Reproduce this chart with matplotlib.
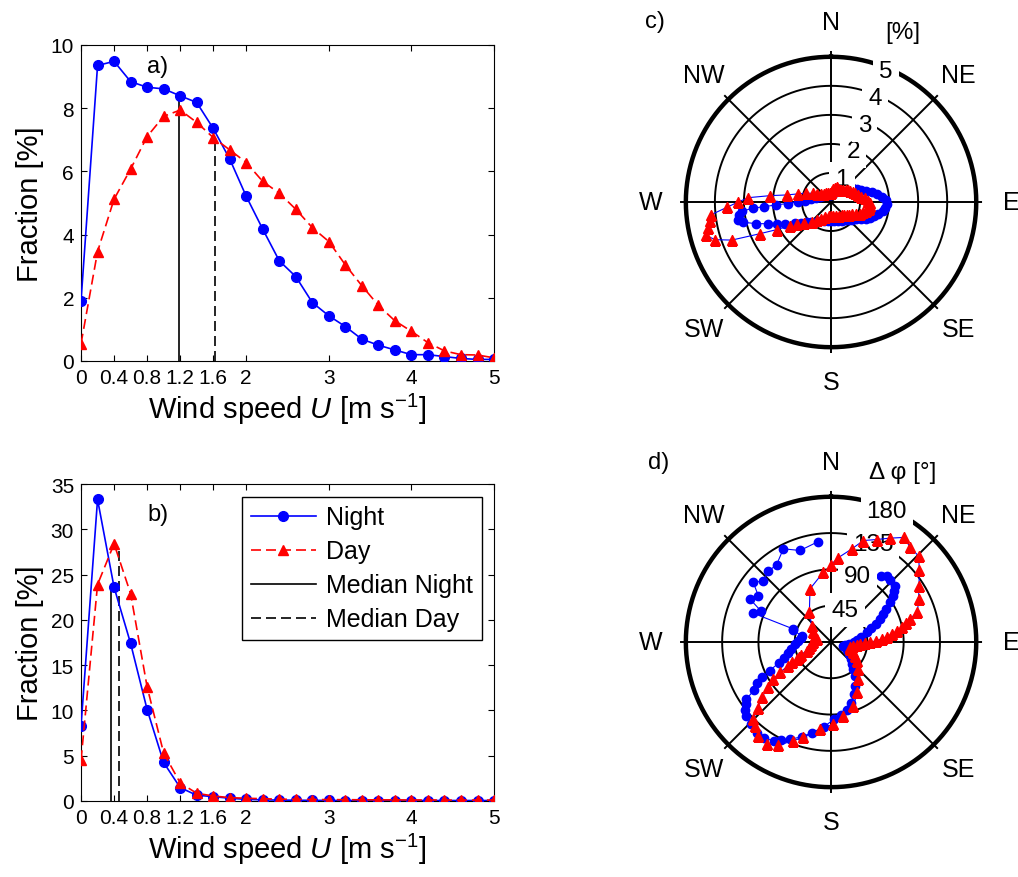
import numpy as np
import matplotlib
matplotlib.use('Agg')
import matplotlib.pyplot as plt

plt.rcParams['font.family'] = ['Liberation Sans', 'DejaVu Sans']
plt.rcParams['mathtext.fontset'] = 'custom'
plt.rcParams['mathtext.rm'] = 'Liberation Sans'
plt.rcParams['mathtext.it'] = 'Liberation Sans:italic'

# wind speed bins [m/s]
u = [0, 0.2, 0.4, 0.6, 0.8, 1.0, 1.2, 1.4, 1.6, 1.8, 2.0, 2.2, 2.4, 2.6, 2.8,
     3.0, 3.2, 3.4, 3.6, 3.8, 4.0, 4.2, 4.4, 4.6, 4.8, 5.0]
xticks = [0, 0.4, 0.8, 1.2, 1.6, 2, 3, 4, 5]
xticklabels = ['0', '0.4', '0.8', '1.2', '1.6', '2', '3', '4', '5']

# a) fraction [%]
a_night = [1.9, 9.35, 9.48, 8.84, 8.66, 8.61, 8.39, 8.18, 7.36, 6.39, 5.21, 4.17, 3.17,
           2.67, 1.85, 1.43, 1.09, 0.69, 0.5, 0.35, 0.2, 0.2, 0.14, 0.08, 0.05, 0.05]
a_day = [0.55, 3.46, 5.12, 6.07, 7.1, 7.74, 7.94, 7.55, 7.07, 6.68, 6.28, 5.68, 5.31,
         4.8, 4.22, 3.78, 3.04, 2.38, 1.76, 1.27, 0.94, 0.58, 0.32, 0.2, 0.19, 0.1]
a_median = [1.18, 1.62]      # night, day
a_median_top = [8.3, 7.0]

# b) fraction [%]
b_night = [8.3, 33.3, 23.6, 17.4, 10.1, 4.25, 1.48, 0.63, 0.48, 0.3, 0.18, 0.12, 0.1,
           0.08, 0.07, 0.06, 0.05, 0.05, 0.05, 0.05, 0.05, 0.05, 0.05, 0.05, 0.05, 0.05]
b_day = [4.5, 23.9, 28.4, 22.9, 12.6, 5.3, 2.0, 0.85, 0.55, 0.37, 0.3, 0.25, 0.2,
         0.18, 0.16, 0.15, 0.14, 0.13, 0.12, 0.12, 0.11, 0.11, 0.1, 0.1, 0.1, 0.1]
b_median = [0.367, 0.455]
b_median_top = [23.8, 27.9]

# c) direction distribution, bearing [deg] and fraction [%]
c_night_dir = [0, 5, 10, 15, 20, 25, 30, 35, 40, 45, 50, 55, 60, 64, 68, 72, 76, 80, 84, 88,
               92, 96, 100, 104, 108, 112, 116, 120, 125, 130, 135, 140, 150, 160, 170, 180,
               190, 200, 210, 218, 225, 230, 235, 240, 244, 248, 251, 254, 257, 259, 262, 264,
               265.5, 266, 267, 268, 270, 273, 278, 285, 295, 305, 320, 335, 350]
c_night_pct = [0.25, 0.27, 0.3, 0.32, 0.35, 0.38, 0.42, 0.47, 0.53, 0.6, 0.68, 0.78, 0.9,
               1.0, 1.12, 1.28, 1.45, 1.62, 1.78, 1.9, 1.92, 1.88, 1.8, 1.68, 1.55, 1.45,
               1.35, 1.2, 1.05, 0.95, 0.88, 0.82, 0.74, 0.68, 0.65, 0.64, 0.65, 0.68, 0.76,
               0.86, 0.98, 1.08, 1.25, 1.45, 1.75, 2.0, 2.3, 2.7, 3.1, 3.26, 3.2, 3.1, 2.7,
               2.3, 1.9, 1.5, 1.15, 0.9, 0.7, 0.55, 0.42, 0.35, 0.3, 0.27, 0.25]
c_day_dir = [0, 5, 10, 15, 20, 25, 30, 35, 40, 45, 50, 55, 60, 65, 70, 75, 80, 84, 88, 92,
             96, 100, 104, 108, 112, 116, 120, 125, 130, 135, 140, 150, 160, 170, 180, 190,
             200, 210, 218, 225, 232, 237, 240, 243, 246, 249, 252, 255, 258, 261, 264, 267,
             270, 273, 276, 279, 284, 290, 295, 300, 310, 320, 330, 340, 350]
c_day_pct = [0.3, 0.38, 0.45, 0.5, 0.55, 0.52, 0.5, 0.52, 0.55, 0.6, 0.65, 0.7, 0.76, 0.82,
             0.88, 0.96, 1.06, 1.17, 1.27, 1.33, 1.35, 1.31, 1.25, 1.17, 1.08, 0.95, 0.84,
             0.76, 0.7, 0.65, 0.6, 0.54, 0.5, 0.48, 0.47, 0.5, 0.56, 0.66, 0.8, 0.95, 1.2,
             1.4, 1.63, 2.09, 2.69, 3.66, 4.2, 4.45, 4.33, 4.23, 4.14, 3.6, 3.2, 2.85, 2.1,
             1.55, 1.16, 0.9, 0.7, 0.55, 0.45, 0.38, 0.34, 0.32, 0.3]

# d) direction change, bearing [deg] and delta phi [deg]
d_night_dir = [37, 40, 44, 48.6, 51, 53.4, 56, 59, 62, 65, 68, 71, 75, 80, 85, 90, 96, 101,
               106, 112, 118, 124, 131, 136, 140, 145, 151, 156, 162, 167, 172, 178, 185,
               192, 197, 203, 207, 210, 215, 219, 224, 229, 232, 234, 236, 238, 241, 243,
               245, 248, 251, 255, 260, 266, 272, 278, 282, 287, 289, 290.3, 294, 297.9,
               302.5, 307.5, 311.9, 318.3, 324.9, 332.9, 341.3, 352.8]
d_night_dphi = [102, 107, 106, 105.8, 101, 96, 88, 80, 73, 67, 60, 53, 46, 38, 32, 28, 22,
                18, 16, 18, 22, 27, 32, 38, 43, 52, 62, 70, 79, 86, 91, 96, 106, 115, 123,
                131, 137, 142, 145, 145, 142, 139, 136, 130, 127, 112, 105, 96, 84, 70, 62,
                55, 50, 45, 41, 38, 37, 49, 50, 103.7, 95.6, 113.8, 107, 121.6, 112.8, 117,
                117.3, 129.7, 119.7, 125.5]
d_day_dir = [0, 5, 12.5, 17.7, 24, 29.6, 34.9, 39.8, 45.5, 51, 57.6, 63.8, 70.6, 73.8, 76,
             78.3, 80.5, 82.5, 84.5, 86.6, 88.5, 90.5, 92, 94, 97, 100, 105.7, 110, 115,
             119.7, 127, 134.6, 143.5, 152.4, 160.7, 170.5, 178.4, 187.2, 196.2, 200.9, 207,
             212.2, 217.8, 222.2, 225.2, 228, 231.4, 234.1, 237.3, 239.3, 241, 242.5, 243.7,
             245, 247, 250.4, 255, 262, 269, 281.8, 290, 298.7, 310.2, 323.9, 338.4, 353.7]
d_day_dphi = [96, 105, 118, 132, 139, 148, 158, 153, 152, 141, 129, 121, 113.6, 102, 96,
              89.6, 83, 76, 70, 63, 56, 48.4, 42, 36, 32, 28, 24.5, 25, 30, 34, 40, 47.7, 57,
              70.5, 83.7, 92.7, 101.8, 109, 123, 131, 143.6, 149.7, 147, 140, 135.8, 122, 110,
              96, 85, 73.7, 60.5, 54, 47.6, 44, 40, 32, 28, 25, 22, 18, 21, 25, 31.4, 45.6,
              70.8, 87]

compass = ['N', 'NE', 'E', 'SE', 'S', 'SW', 'W', 'NW']
compass_deg = [0, 45, 90, 135, 180, 225, 270, 315]

fig = plt.figure(figsize=(10.18, 8.78), dpi=100)


def speed_panel(ax, night, day, med, med_top, ylim, yticks, tag, tag_y):
    ax.plot(u, night, '-o', color='b', lw=1.2, ms=7, mfc='b', mec='b', label='Night', zorder=3)
    ax.plot(u, day, '--^', color='r', lw=1.2, ms=7.5, mfc='r', mec='r', dashes=(6, 3),
            label='Day', zorder=4)
    ax.plot([med[0], med[0]], [0, med_top[0]], 'k-', lw=1.2, label='Median Night', zorder=2)
    ax.plot([med[1], med[1]], [0, med_top[1]], 'k--', lw=1.2, dashes=(6, 3),
            label='Median Day', zorder=2)
    ax.set_xlim(0, 5)
    ax.set_ylim(ylim)
    ax.set_xticks(xticks)
    ax.set_xticklabels(xticklabels)
    ax.set_yticks(yticks)
    ax.tick_params(direction='in', top=True, right=True, length=4, width=0.8,
                   labelsize=15, pad=5)
    for s in ax.spines.values():
        s.set_linewidth(0.8)
    ax.set_ylabel('Fraction [%]', fontsize=21, labelpad=5)
    ax.set_xlabel(r'Wind speed $\mathit{U}$ [m s$^{-1}$]', fontsize=21, labelpad=3)
    ax.text(0.186, tag_y, tag, transform=ax.transAxes, fontsize=17, ha='center', va='center')


ax_a = fig.add_axes([0.0796, 0.5877, 0.4057, 0.36])
speed_panel(ax_a, a_night, a_day, a_median, a_median_top, (0, 10), [0, 2, 4, 6, 8, 10],
            'a)', 0.934)

ax_b = fig.add_axes([0.0796, 0.0866, 0.4057, 0.361])
speed_panel(ax_b, b_night, b_day, b_median, b_median_top, (0, 35),
            [0, 5, 10, 15, 20, 25, 30, 35], 'b)', 0.905)
leg = ax_b.legend(loc='upper right', fontsize=18, frameon=True, fancybox=False,
                  edgecolor='k', framealpha=1, handlelength=2.6, handletextpad=0.4,
                  labelspacing=0.4, borderpad=0.35, borderaxespad=0.5)
leg.get_frame().set_linewidth(1.0)


def rose_panel(rect, rmax, rings, ring_labels, label_r, label_deg, unit_label, tag, tag_xy,
               night_dir, night_val, day_dir, day_val):
    ax = fig.add_axes(rect, projection='polar')
    ax.set_theta_zero_location('N')
    ax.set_theta_direction(-1)
    ax.set_ylim(0, rmax)
    ax.set_axis_off()
    th = np.linspace(0, 2 * np.pi, 721)
    for r in rings[:-1]:
        ax.plot(th, np.full_like(th, r), color='k', lw=1.4, zorder=1)
    ax.plot(th, np.full_like(th, rings[-1]), color='k', lw=3.2, zorder=1)
    for d in compass_deg:
        ax.plot([np.radians(d), np.radians(d)], [0, rmax], color='k', lw=1.4, zorder=1)

    ax.plot(np.radians(night_dir), night_val, '-o', color='b', lw=0.8, ms=6,
            mfc='b', mec='b', zorder=2)
    for r, s, rl, dg in zip(rings, ring_labels, label_r, label_deg):
        ax.text(np.radians(dg), rl, s, ha='center', va='center', fontsize=17.5, zorder=2.5,
                bbox=dict(boxstyle='square,pad=0.25', fc='w', ec='none'))
    ax.plot(np.radians(day_dir), day_val, '-^', color='b', lw=0.8, ms=6.5,
            mfc='r', mec='r', zorder=3)

    for name, d in zip(compass, compass_deg):
        ax.text(np.radians(d), rmax * 6.2 / 5.2, name, ha='center', va='center', fontsize=18)
    ax.text(np.radians(22.9), rmax * 6.37 / 5.2, unit_label, ha='center', va='center',
            fontsize=17.5)
    fig.text(tag_xy[0], tag_xy[1], tag, fontsize=17, ha='center', va='center')
    return ax


ax_c = rose_panel([0.668, 0.5968, 0.2967, 0.344], 5.2, [1, 2, 3, 4, 5],
                  ['1', '2', '3', '4', '5'], [0.88, 1.9, 2.9, 3.9, 4.9],
                  [25, 23.5, 23.3, 23, 22.7], '[%]', 'c)', (0.643, 0.975),
                  c_night_dir, c_night_pct, c_day_dir, c_day_pct)

ax_d = rose_panel([0.668, 0.0957, 0.2967, 0.344], 187.2, [45, 90, 135, 180],
                  ['45', '90', '135', '180'], [43.7, 88.5, 132, 177],
                  [23.4, 21.6, 23.3, 23], 'Δ φ [°]', 'd)', (0.647, 0.473),
                  d_night_dir, d_night_dphi, d_day_dir, d_day_dphi)

fig.savefig('out.png', dpi=100)
